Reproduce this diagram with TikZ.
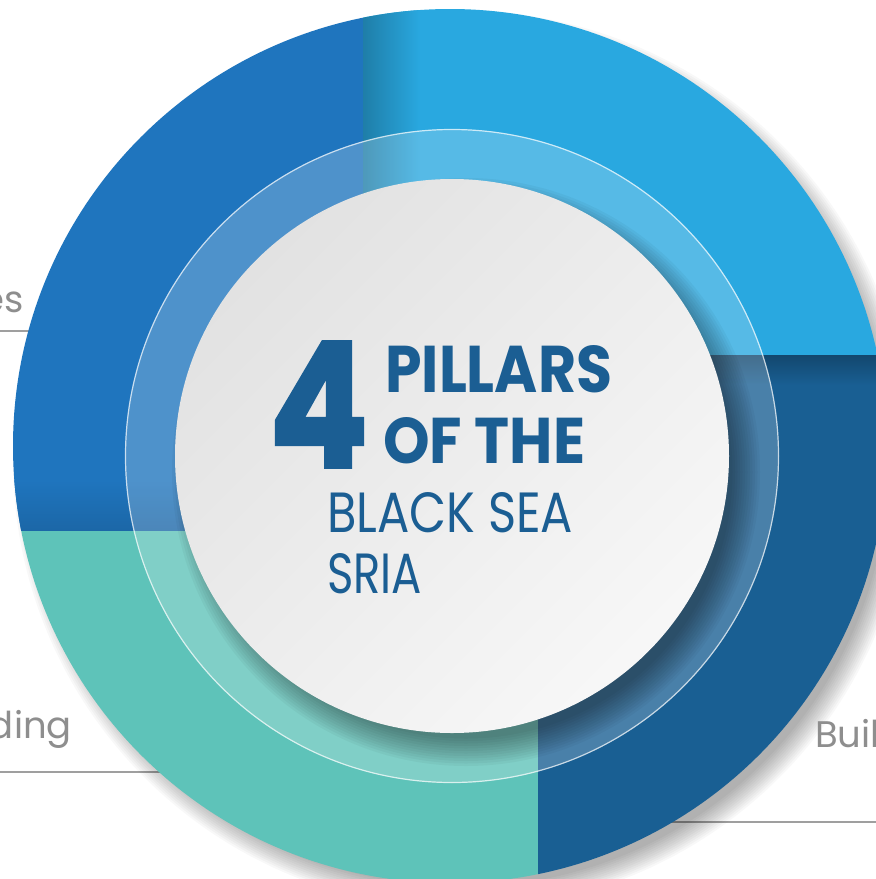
\documentclass[tikz,border=0pt]{standalone}
\usepackage{fontspec}
\setmainfont{Poppins}
\newfontfamily\heavyfont{Poppins}[BoldFeatures={FakeBold=2}]
\usepackage{graphicx}
\usetikzlibrary{calc}

\definecolor{tlblue}{HTML}{1F75BE}
\definecolor{trblue}{HTML}{29A8E0}
\definecolor{brblue}{HTML}{195F93}
\definecolor{blteal}{HTML}{5EC3B9}
\definecolor{titleblue}{HTML}{1B5E93}
\definecolor{labelgray}{HTML}{8E8E8E}

\tikzset{
  pillarlabel/.style={text=labelgray, inner sep=0pt, font=\fontsize{37}{37}\selectfont},
  guideline/.style={draw=labelgray!85, line width=1.3pt},
  titletext/.style={text=titleblue, inner sep=0pt, anchor=base west}
}

\begin{document}
\begin{tikzpicture}[x=1pt,y=-1pt]
    \clip (0,0) rectangle (876,879);
    \fill[white] (0,0) rectangle (876,879);
    \coordinate (O) at (450,446);
    \coordinate (M) at (452,456);
    % guide lines under the labels
    \coordinate (esA) at (0,331);
    \coordinate (esB) at (45,331);
    \coordinate (dingA) at (0,772);
    \coordinate (dingB) at (160,772);
    \coordinate (builA) at (665,822);
    \coordinate (builB) at (876,822);
    \draw[guideline] (esA) -- (esB);
    \draw[guideline] (dingA) -- (dingB);
    \draw[guideline] (builA) -- (builB);
    % soft shadow of the big disc
    \foreach \k in {1,...,12}
      \fill[black, opacity=0.028] ($(O)+(12,14)$) circle ({425+\k*2});
    % the four quadrants
    \begin{scope}
      \clip (O) circle (437);
      \fill[tlblue] (0,0) rectangle (363,530);
      \fill[trblue] (363,0) rectangle (900,355);
      \fill[brblue] (538,355) rectangle (900,900);
      \fill[blteal] (0,530) rectangle (538,900);
      \fill[brblue] (363,355) rectangle (538,530);
      \shade[left color=black!25!trblue, right color=trblue] (363,0) rectangle (420,355);
      \shade[top color=black!25!brblue, bottom color=brblue] (538,355) rectangle (900,385);
      \shade[top color=tlblue, bottom color=black!12!tlblue] (0,480) rectangle (363,530);
    \end{scope}
    % glass ring
    \fill[white, opacity=0.21] (M) circle (327);
    \draw[white, opacity=0.7, line width=1.2pt] (M) circle (326.5);
    % shadow of the inner disc
    \foreach \k in {1,...,12}
      \fill[black, opacity=0.035] ($(M)+(14,16)$) circle ({264+\k*2.5});
    \shade[top color={rgb,255:red,226;green,226;blue,226}, bottom color=white!97!black, shading angle=45] (M) circle (277);
    % title
    \node[titletext] (four) at (269,467) {\resizebox{99pt}{125pt}{\heavyfont\bfseries 4}};
    \node[titletext] (pillars) at (385,392) {\resizebox{227pt}{47pt}{\bfseries PILLARS}};
    \node[titletext] (ofthe) at (383,463) {\resizebox{202pt}{46pt}{\bfseries OF THE}};
    \node[titletext] (blacksea) at (327,532) {\resizebox{246pt}{40pt}{BLACK SEA}};
    \node[titletext] (sria) at (327,593) {\resizebox{95pt}{40pt}{SRIA}};
    % labels
    \node[pillarlabel, anchor=base east] (es) at (24,312) {es};
    \node[pillarlabel, anchor=base east] (ding) at (72,738) {ding};
    \node[pillarlabel, anchor=base west] (buil) at (815,747) {Buil};
\end{tikzpicture}
\end{document}
